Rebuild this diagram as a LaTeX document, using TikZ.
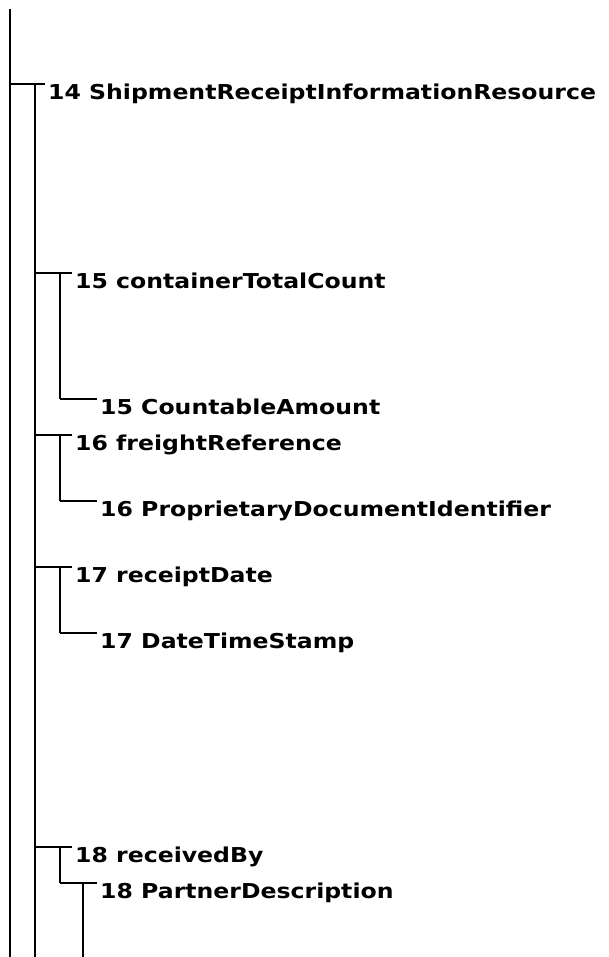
\documentclass[tikz,border=0pt]{standalone}
\usepackage{fontspec}
\newfontfamily\lblfont{DejaVu Sans}[FakeStretch=1.15]
\tikzset{
  lbl/.style={anchor=north west, font=\lblfont\bfseries\fontsize{20.5}{24}\selectfont,
    inner xsep=3pt, inner ysep=0pt, text height=15pt, text depth=4pt},
  vline/.style={line width=2pt},
  hline/.style={line width=2.6pt}
}
\begin{document}
\begin{tikzpicture}[x=1pt,y=-1pt]
\useasboundingbox (0,0) rectangle (609,957);
% root line
\coordinate (top) at (10,9);
\coordinate (bot0) at (10,957);
% nodes
\node[lbl] (n14)  at (45,84)  {14 ShipmentReceiptInformationResource};
\node[lbl] (n15a) at (72,273) {15 containerTotalCount};
\node[lbl] (n15b) at (97,399) {15 CountableAmount};
\node[lbl] (n16a) at (72,435) {16 freightReference};
\node[lbl] (n16b) at (97,501) {16 ProprietaryDocumentIdentifier};
\node[lbl] (n17a) at (72,567) {17 receiptDate};
\node[lbl] (n17b) at (97,633) {17 DateTimeStamp};
\node[lbl] (n18a) at (72,847) {18 receivedBy};
\node[lbl] (n18b) at (97,883) {18 PartnerDescription};
% child line anchors
\coordinate (c14)  at ([xshift=-10pt]n14.north west);
\coordinate (c15)  at ([xshift=-12pt]n15a.north west);
\coordinate (c16)  at ([xshift=-12pt]n16a.north west);
\coordinate (c17)  at ([xshift=-12pt]n17a.north west);
\coordinate (c18)  at ([xshift=-12pt]n18a.north west);
\coordinate (c18b) at ([xshift=-14pt]n18b.north west);
% verticals
\draw[vline] (top) -- (bot0);
\draw[vline] (c14) -- (c14 |- bot0);
\draw[vline] (c15) -- (c15 |- n15b.north west);
\draw[vline] (c16) -- (c16 |- n16b.north west);
\draw[vline] (c17) -- (c17 |- n17b.north west);
\draw[vline] (c18) -- (c18 |- n18b.north west);
\draw[hline] (c18b) -- (c18b |- bot0);
% horizontals
\draw[vline] (top |- n14.north west) -- (n14.north west);
\draw[hline] (c14 |- n15a.north west) -- (n15a.north west);
\draw[hline] (c15 |- n15b.north west) -- (n15b.north west);
\draw[hline] (c14 |- n16a.north west) -- (n16a.north west);
\draw[hline] (c16 |- n16b.north west) -- (n16b.north west);
\draw[hline] (c14 |- n17a.north west) -- (n17a.north west);
\draw[hline] (c17 |- n17b.north west) -- (n17b.north west);
\draw[hline] (c14 |- n18a.north west) -- (n18a.north west);
\draw[hline] (c18 |- n18b.north west) -- (n18b.north west);
\end{tikzpicture}
\end{document}
